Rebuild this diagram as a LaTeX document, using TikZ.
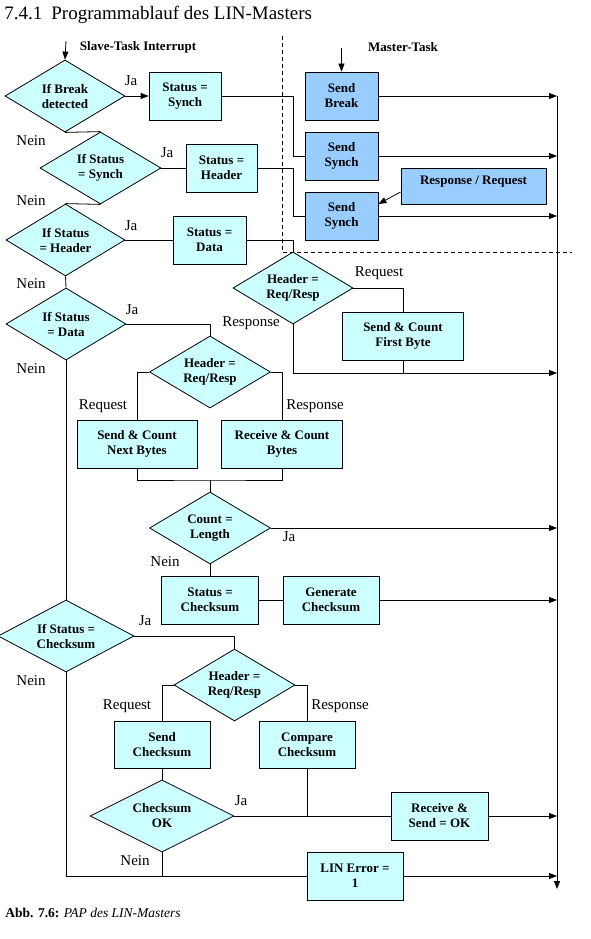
\documentclass[tikz,border=0pt]{standalone}
\usepackage{fontspec}
\setmainfont{Liberation Serif}
\usetikzlibrary{shapes.geometric,arrows.meta}
\definecolor{cyanfill}{HTML}{CCFFFF}
\definecolor{bluefill}{HTML}{99CCFF}
\begin{document}
\begin{tikzpicture}[x=1pt,y=-1pt, line width=0.8pt,
  pbox/.style 2 args={draw, fill=cyanfill, rectangle, minimum width=#1pt, minimum height=#2pt, inner sep=0pt, align=center, font=\bfseries\fontsize{13}{15}\selectfont},
  mbox/.style 2 args={pbox={#1}{#2}, fill=bluefill},
  dia/.style 2 args={draw, fill=cyanfill, diamond, aspect=2, minimum width=#1pt, minimum height=#2pt, inner sep=0pt, align=center, font=\bfseries\fontsize{13}{15}\selectfont},
  lbl/.style={inner sep=0pt, text height=10.5pt, text depth=3pt, font=\fontsize{15}{17}\selectfont},
  hdr/.style={inner sep=0pt, font=\bfseries\fontsize{13}{15}\selectfont},
  arr/.style={-{Triangle[length=8pt,width=6pt]}},
  sep/.style={dash pattern=on 4pt off 3pt, line width=0.6pt}
  ]
\fill[white] (0,0) rectangle (591,939);
\useasboundingbox (0,0) rectangle (591,939);

% title and caption
\node[anchor=base west, inner sep=0pt, font=\fontsize{19}{21}\selectfont] (title) at (4,20) {7.4.1\hspace{9pt}Programmablauf des LIN-Masters};
\node[anchor=base west, inner sep=0pt, font=\fontsize{13.5}{15}\selectfont] (cap) at (5,917) {\textbf{Abb. 7.6:} \textit{PAP des LIN-Masters}};

% separators
\draw[sep] (282,36) -- (282,252) -- (572,252);

% headings
\node[hdr] (slave) at (138,47) {Slave-Task Interrupt};
\node[hdr] (master) at (403,47) {Master-Task};
\coordinate (s0) at (66,41);
\coordinate (m0) at (341.5,48);

% bus coordinates
\coordinate (e96) at (557,96);
\coordinate (e156) at (557,156);
\coordinate (e216) at (557,216);
\coordinate (e373) at (557,373);
\coordinate (e528) at (557,528);
\coordinate (e600) at (557,600);
\coordinate (e816) at (557,816);
\coordinate (e876) at (557,876);
\coordinate (ebot) at (557,889);

% decisions
\node[dia={120}{72}] (d1) at (65,96) {If Break\\detected};
\node[dia={121}{72}] (d2) at (100.5,168) {If Status\\= Synch};
\node[dia={119}{72}] (d3) at (65.5,240) {If Status\\= Header};
\node[dia={120}{72}] (d4) at (66,324) {If Status\\= Data};
\node[dia={120}{72}] (dh1) at (293,288) {Header =\\Req/Resp};
\node[dia={121}{72}] (d5) at (210,372) {Header =\\Req/Resp};
\node[dia={121}{72}] (d6) at (210,528) {Count =\\Length};
\node[dia={136}{72}] (d7) at (66,636) {If Status =\\Checksum};
\node[dia={121}{72}] (d8) at (234.5,685) {Header =\\Req/Resp};
\node[dia={144}{72}] (d9) at (162,816) {Checksum\\OK};

% boxes
\node[pbox={72}{48}] (b1) at (185,96) {Status =\\Synch};
\node[mbox={73}{48}] (sb) at (341.5,96) {Send\\Break};
\node[mbox={73}{48}] (ss1) at (341.5,156) {Send\\Synch};
\node[mbox={73}{48}] (ss2) at (341.5,216) {Send\\Synch};
\node[mbox={145}{36}, label={[hdr, yshift=4pt]center:Response / Request}] (rr) at (473.5,186) {};
\node[pbox={71}{48}] (sh) at (221.5,168) {Status =\\Header};
\node[pbox={73}{48}] (sd) at (209.5,240) {Status =\\Data};
\node[pbox={121}{48}] (fb) at (403,336) {Send \& Count\\First Byte};
\node[pbox={120}{48}] (nb) at (137,444) {Send \& Count\\Next Bytes};
\node[pbox={121}{48}] (rb) at (282,444) {Receive \& Count\\Bytes};
\node[pbox={97}{48}] (sc) at (210,600) {Status =\\Checksum};
\node[pbox={96}{48}] (gc) at (331,600) {Generate\\Checksum};
\node[pbox={96}{47}] (sk) at (162,744.5) {Send\\Checksum};
\node[pbox={96}{47}] (cc) at (307,744.5) {Compare\\Checksum};
\node[pbox={97}{48}] (ro) at (439.5,816) {Receive \&\\Send = OK};
\node[pbox={96}{48}] (le) at (355,876) {LIN Error =\\1};

% connectors
\draw[arr] (s0) -- (d1.north);
\draw[arr] (m0) -- (sb.north);
\draw[arr] (d1.east) -- (b1.west);
\draw (b1.east) -- ++(72,0) |- (ss1.west);
\draw[arr] (sb.east) -- (e96);
\draw[arr] (ss1.east) -- (e156);
\draw[arr] (ss2.east) -- (e216);
\draw[arr] ([yshift=-6pt]rr.west) -- ([yshift=12pt]ss2.east);
\draw (d1.south) -- (d2.north);
\draw (d2.east) -- (sh.west);
\draw (sh.east) -- ++(36,0) |- (ss2.west);
\draw (d2.south) -- (d3.north);
\draw (d3.east) -- (sd.west);
\draw (sd.east) -| (dh1.north);
\draw (d3.south) -- (d4.north);
\draw (d4.east) -| (d5.north);
\draw (dh1.east) -| (fb.north);
\draw[arr] (dh1.south) |- (e373);
\draw (fb.south) -- (fb.south |- e373);
\draw (d4.south) -- (d7.north);
\draw (d5.west) -| (nb.north);
\draw (d5.east) -| (rb.north);
\coordinate (j) at (210,480);
\draw (nb.south) |- (j) -| (rb.south);
\draw (j) -- (d6.north);
\draw[arr] (d6.east) -- (e528);
\draw (d6.south) -- (sc.north);
\draw (sc.east) -- (gc.west);
\draw[arr] (gc.east) -- (e600);
\draw (d7.east) -| (d8.north);
\draw (d8.west) -| (sk.north);
\draw (d8.east) -| (cc.north);
\draw (sk.south) -- (d9.north);
\draw (d9.east) -- (ro.west);
\draw (cc.south) -- (cc.south |- ro.west);
\draw[arr] (ro.east) -- (e816);
\draw (d7.south) |- (le.west);
\draw (d9.south) -- (d9.south |- le.west);
\draw[arr] (le.east) -- (e876);
\draw[arr] (e96) -- (ebot);

% labels
\node[lbl] at (131,82) {Ja};
\node[lbl] at (31,142) {Nein};
\node[lbl] at (167,154) {Ja};
\node[lbl] at (31,202) {Nein};
\node[lbl] at (131,227) {Ja};
\node[lbl] at (31,285) {Nein};
\node[lbl] at (132,311) {Ja};
\node[lbl] at (31,370) {Nein};
\node[lbl] at (379,273) {Request};
\node[lbl] at (251,323) {Response};
\node[lbl] at (103,406) {Request};
\node[lbl] at (315,406) {Response};
\node[lbl] at (289,538) {Ja};
\node[lbl] at (165,563) {Nein};
\node[lbl] at (145,622) {Ja};
\node[lbl] at (31,682) {Nein};
\node[lbl] at (127,706) {Request};
\node[lbl] at (340,706) {Response};
\node[lbl] at (241,802) {Ja};
\node[lbl] at (135,862) {Nein};
\end{tikzpicture}
\end{document}
